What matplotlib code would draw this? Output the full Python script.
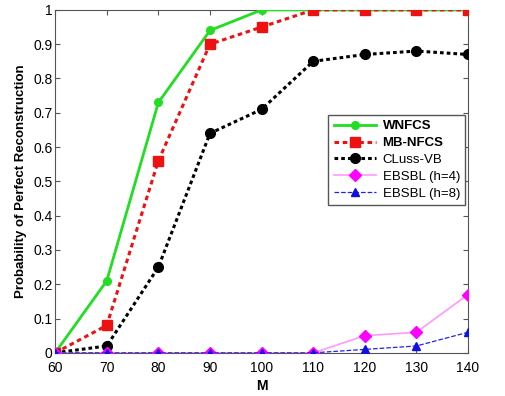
import matplotlib
matplotlib.use("Agg")
import matplotlib.pyplot as plt

plt.rcParams['font.family'] = ['Liberation Sans', 'DejaVu Sans']

M = [60, 70, 80, 90, 100, 110, 120, 130, 140]
wnfcs = [0, 0.21, 0.73, 0.94, 1, 1, 1, 1, 1]
mbnfcs = [0, 0.08, 0.56, 0.90, 0.95, 1, 1, 1, 1]
cluss = [0, 0.02, 0.25, 0.64, 0.71, 0.85, 0.87, 0.88, 0.87]
ebsbl4 = [0, 0, 0, 0, 0, 0, 0.05, 0.06, 0.17]
ebsbl8 = [0, 0, 0, 0, 0, 0, 0.01, 0.02, 0.06]
xticks = [60, 70, 80, 90, 100, 110, 120, 130, 140]
yticks = [0, 0.1, 0.2, 0.3, 0.4, 0.5, 0.6, 0.7, 0.8, 0.9, 1]
ytick_labels = ['0', '0.1', '0.2', '0.3', '0.4', '0.5', '0.6', '0.7', '0.8', '0.9', '1']

fig = plt.figure(figsize=(5.06, 3.96), dpi=100)
ax = fig.add_axes([0.109, 0.109, 0.816, 0.866])

ax.plot(M, wnfcs, '-', color='#22dd22', lw=2, marker='o', ms=5.5, label='WNFCS', zorder=3)
ax.plot(M, mbnfcs, color='#ee1111', lw=2.2, dashes=(1.5, 1.2), marker='s', ms=7, label='MB-NFCS', zorder=3)
ax.plot(M, cluss, color='black', lw=2.2, dashes=(1.2, 1.0), marker='o', ms=7, label='CLuss-VB', zorder=3)
ax.plot(M, ebsbl4, '-', color='#ff99ff', lw=1.2, marker='D', ms=6, mfc='#ff00ff', mec='#ff00ff', label='EBSBL (h=4)', zorder=4)
ax.plot(M, ebsbl8, '--', color='#2222ee', lw=0.9, marker='^', ms=6, mfc='#1111dd', mec='#1111dd', label='EBSBL (h=8)', zorder=5)

ax.set_xlim(60, 140)
ax.set_ylim(0, 1)
ax.set_xticks(xticks)
ax.set_yticks(yticks)
ax.set_yticklabels(ytick_labels)
ax.tick_params(direction='in', top=True, right=True, labelsize=10, pad=2, color='#555555')
ax.tick_params(axis='x', pad=6)
for s in ax.spines.values():
    s.set_color('#555555')

ax.set_xlabel('M', fontsize=10, fontweight='bold', labelpad=3)
ax.set_ylabel('Probability of Perfect Reconstruction', fontsize=9.5, fontweight='bold', labelpad=4)

leg = ax.legend(loc='upper right', bbox_to_anchor=(0.993, 0.694), fontsize=9.5,
                frameon=True, fancybox=False, edgecolor='#555555', framealpha=1,
                handlelength=3.2, borderpad=0.4, labelspacing=0.35, handletextpad=0.5,
                borderaxespad=0)
for t in leg.get_texts()[:2]:
    t.set_fontweight('bold')

fig.savefig('out.png', dpi=100)
